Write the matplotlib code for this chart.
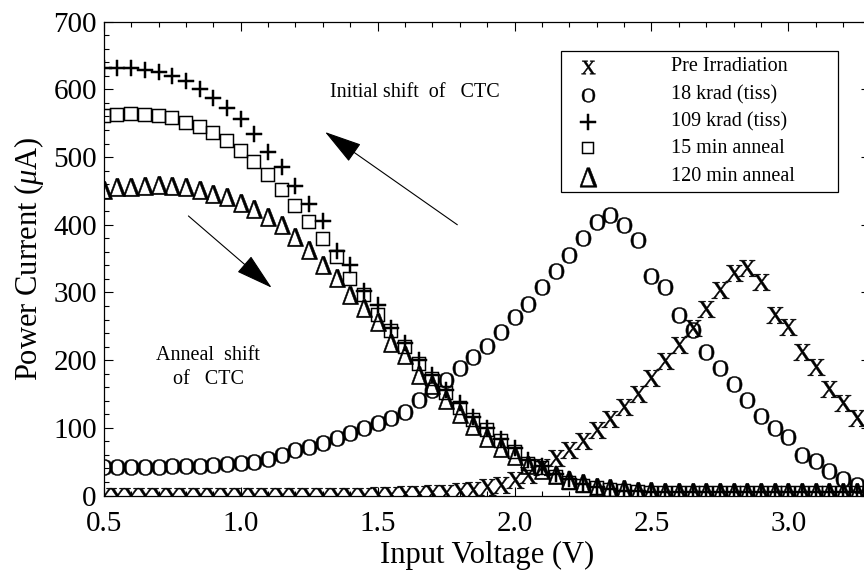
import matplotlib
matplotlib.use('Agg')
import matplotlib.pyplot as plt
import numpy as np
from matplotlib.textpath import TextPath
from matplotlib.font_manager import FontProperties
from matplotlib.path import Path
from matplotlib.patches import Rectangle
from matplotlib.ticker import MultipleLocator, FormatStrFormatter

plt.rcParams['font.family'] = ['Liberation Serif', 'DejaVu Serif']
plt.rcParams['mathtext.fontset'] = 'custom'
plt.rcParams['mathtext.rm'] = 'Liberation Serif'
plt.rcParams['mathtext.it'] = 'Liberation Serif:italic'

# input voltage sweep (V)
volts = [0.50, 0.55, 0.60, 0.65, 0.70, 0.75, 0.80, 0.85, 0.90, 0.95,
         1.00, 1.05, 1.10, 1.15, 1.20, 1.25, 1.30, 1.35, 1.40, 1.45,
         1.50, 1.55, 1.60, 1.65, 1.70, 1.75, 1.80, 1.85, 1.90, 1.95,
         2.00, 2.05, 2.10, 2.15, 2.20, 2.25, 2.30, 2.35, 2.40, 2.45,
         2.50, 2.55, 2.60, 2.65, 2.70, 2.75, 2.80, 2.85, 2.90, 2.95,
         3.00, 3.05, 3.10, 3.15, 3.20, 3.25]

# power current (uA)
pre_irr = [0, 0, 0, 0, 0, 0, 0, 0, 0, 0,
           0, 0, 0, 0, 0, 0, 0, 0, 0, 0,
           1, 1, 2, 2, 3, 4, 6, 8, 12, 16,
           23, 31, 42, 55, 67, 80, 97, 113, 131, 150,
           173, 198, 222, 247, 276, 303, 328, 336, 316, 267,
           249, 212, 190, 158, 136, 114]
krad18 = [42, 42, 42, 42, 42, 43, 43, 44, 45, 46,
          48, 50, 54, 60, 67, 72, 78, 85, 92, 99,
          107, 114, 124, 141, 156, 171, 188, 205, 221, 241,
          264, 283, 308, 331, 355, 380, 404, 414, 399, 377,
          324, 308, 267, 245, 212, 189, 165, 141, 118, 100,
          87, 60, 51, 36, 25, 15]
krad109 = [631, 631, 631, 629, 625, 620, 612, 601, 588, 573,
           556, 534, 508, 486, 457, 430, 405, 361, 340, 302,
           281, 247, 225, 200, 178, 156, 136, 116, 99, 84,
           70, 52, 44, 32, 24, 17, 13, 9, 7, 6,
           5, 5, 5, 5, 5, 5, 5, 5, 5, 5,
           5, 5, 5, 5, 5, 5]
anneal15 = [560, 562, 563, 562, 561, 557, 551, 545, 535, 524,
            509, 492, 473, 451, 427, 404, 379, 352, 320, 296,
            267, 243, 219, 195, 172, 151, 130, 112, 97, 81,
            65, 46, 40, 27, 19, 14, 11, 8, 6, 5,
            4, 4, 4, 4, 4, 4, 4, 4, 4, 4,
            4, 4, 4, 4, 4, 4]
anneal120 = [451, 456, 456, 457, 458, 457, 456, 451, 446, 441,
             432, 424, 412, 400, 382, 362, 341, 321, 296, 277,
             257, 225, 207, 178, 163, 141, 120, 102, 85, 70,
             58, 45, 38, 30, 23, 18, 13, 11, 9, 7,
             6, 5, 5, 5, 5, 5, 5, 5, 5, 5,
             5, 5, 5, 5, 5, 5]

labels = ['Pre Irradiation', '18 krad (tiss)', '109 krad (tiss)',
          '15 min anneal', '120 min anneal']
glyphs = ['X', 'O', '+', '\u25a1', '\u0394']

GLYPH_FONT = FontProperties(family=['Liberation Serif', 'DejaVu Serif'])


def glyph_marker(ch):
    # text glyph as a marker path, centred on its bounding box.
    # also returns the factor that makes markersize = visible glyph size
    p = TextPath((0, 0), ch, size=10, prop=GLYPH_FONT)
    ext = p.get_extents()
    v = p.vertices - [ext.x0 + ext.width / 2, ext.y0 + ext.height / 2]
    v[p.codes == Path.CLOSEPOLY] = 0
    factor = np.abs(v).max() / (max(ext.width, ext.height) / 2)
    return Path(v, p.codes), factor


fig = plt.figure(figsize=(8.64, 5.81), dpi=100)
ax = fig.add_axes([103.8 / 864, 85.5 / 581, (870 - 103.8) / 864, 473.8 / 581])

series = [pre_irr, krad18, krad109, anneal15, anneal120]
data_ms = [12.5, 11.5, 11.5, 9.6, 13.2]
leg_ms = [10.0, 9.8, 11.0, 8.8, 14.0]

for vals, g, ms in zip(series, glyphs, data_ms):
    path, f = glyph_marker(g)
    ax.plot(volts, vals, linestyle='none', marker=path, ms=ms * f,
            mfc='k', mec='k', mew=0.35)

ax.set_xlim(0.5, 3.298)
ax.set_ylim(0, 700)
ax.xaxis.set_major_locator(MultipleLocator(0.5))
ax.xaxis.set_minor_locator(MultipleLocator(0.1))
ax.xaxis.set_major_formatter(FormatStrFormatter('%.1f'))
ax.yaxis.set_major_locator(MultipleLocator(100))
ax.yaxis.set_minor_locator(MultipleLocator(20))
ax.tick_params(which='both', direction='in', top=True, right=True, width=0.8)
ax.tick_params(which='major', length=6.2, labelsize=21)
ax.tick_params(which='minor', length=3.8)
ax.tick_params(axis='x', pad=11)
ax.tick_params(axis='y', pad=5)
for s in ax.spines.values():
    s.set_linewidth(0.9)

ax.set_xlabel('Input Voltage (V)', fontsize=22, labelpad=3)
ax.set_ylabel('Power Current ($\\mu$A)', fontsize=22, labelpad=5)

# legend box drawn by hand to keep the original layout
ax.add_patch(Rectangle((0.5969, 0.6412), 0.3617, 0.2976, transform=ax.transAxes,
                       fill=False, edgecolor='k', lw=0.9, clip_on=False, zorder=5))
row_y = [0.905, 0.8453, 0.789, 0.7329, 0.6729]
for g, lab, ms, y in zip(glyphs, labels, leg_ms, row_y):
    path, f = glyph_marker(g)
    ax.plot([0.6321], [y], transform=ax.transAxes, linestyle='none',
            marker=path, ms=ms * f, mfc='k', mec='k', mew=0.35,
            clip_on=False, zorder=6)
    ax.text(0.7404, y, lab, transform=ax.transAxes, fontsize=14.5,
            ha='left', va='center', zorder=6)

arrow = dict(arrowstyle='-|>,head_length=2.4,head_width=0.68',
             mutation_scale=10, lw=0.8, color='k', shrinkA=0, shrinkB=0)
ax.annotate('', xy=(1.308, 537), xytext=(1.791, 400), arrowprops=arrow)
ax.annotate('', xy=(1.113, 307), xytext=(0.809, 413), arrowprops=arrow)
ax.text(1.326, 596, 'Initial shift  of   CTC', fontsize=14.5,
        ha='left', va='center')
ax.text(0.881, 189, 'Anneal  shift\nof   CTC', fontsize=14.5,
        ha='center', va='center', linespacing=1.4)

fig.savefig('out.png', dpi=100)
